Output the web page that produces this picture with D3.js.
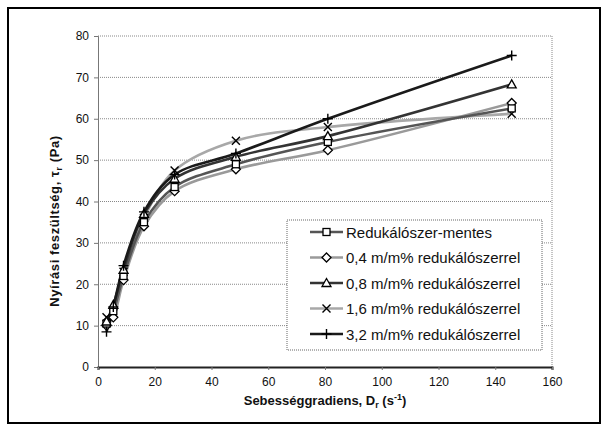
<!DOCTYPE html>
<html><head><meta charset="utf-8">
<script src="https://cdn.jsdelivr.net/npm/d3@7/dist/d3.min.js"></script>
<style>body{margin:0;background:#fff}svg{display:block}text{font-family:"Liberation Sans",Arial,sans-serif}</style>
</head><body><svg id="c" width="608" height="432"></svg>
<script>
const shearRates = [3.0, 5.4, 9.0, 16.2, 27.0, 48.6, 81.0, 145.8];
const seriesNames = ["Redukálószer-mentes","0,4 m/m% redukálószerrel","0,8 m/m% redukálószerrel","1,6 m/m% redukálószerrel","3,2 m/m% redukálószerrel"];
const s0 = [10.5, 13.5, 22.0, 35.0, 43.5, 49.0, 54.4, 62.5];
const s04 = [10.0, 12.0, 21.0, 34.0, 42.5, 47.8, 52.4, 63.8];
const s08 = [11.0, 15.0, 23.5, 37.0, 45.5, 50.8, 55.8, 68.3];
const s16 = [12.0, 13.0, 23.0, 36.0, 47.5, 54.7, 58.0, 61.2];
const s32 = [8.5, 14.5, 24.5, 37.5, 46.5, 51.6, 60.0, 75.3];
const seriesValues = [s0, s04, s08, s16, s32];
const xTicks = [0,20,40,60,80,100,120,140,160];
const yTicks = [0,10,20,30,40,50,60,70,80];

const colors = ["#555","#9a9a9a","#333","#a8a8a8","#1a1a1a"];
const markers = ["square","diamond","triangle","x","plus"];

const svg = d3.select("#c");
const L=98, R=552, T=36, B=367;
const x = d3.scaleLinear().domain([0,160]).range([L,R]);
const y = d3.scaleLinear().domain([0,80]).range([B,T]);

// outer frame
svg.append("rect").attr("x",8).attr("y",8).attr("width",592).attr("height",415)
  .attr("fill","#fff").attr("stroke","#000").attr("stroke-width",2);

// gridlines
svg.append("g").selectAll("line").data(yTicks.filter(d=>d>0)).join("line")
  .attr("x1",L).attr("x2",R).attr("y1",d=>y(d)).attr("y2",d=>y(d))
  .attr("stroke","#888").attr("stroke-width",1).attr("stroke-dasharray","1,1");
svg.append("line").attr("x1",R).attr("x2",R).attr("y1",T).attr("y2",B)
  .attr("stroke","#888").attr("stroke-dasharray","1,1");

// y axis
const ya = svg.append("g").attr("transform",`translate(${L},0)`)
  .call(d3.axisLeft(y).tickValues(yTicks).tickSize(4).tickPadding(5));
ya.select(".domain").attr("stroke","#777");
ya.selectAll(".tick line").attr("stroke","#777");
ya.selectAll("text").attr("font-size",12).attr("fill","#111").style("font-family","Liberation Sans, Arial");

// x axis
const xa = svg.append("g").attr("transform",`translate(0,${B})`)
  .call(d3.axisBottom(x).tickValues(xTicks).tickSize(3).tickPadding(7));
xa.select(".domain").attr("stroke","#222").attr("stroke-width",2);
xa.selectAll(".tick line").attr("stroke","#777");
xa.selectAll("text").attr("font-size",12).attr("fill","#111").style("font-family","Liberation Sans, Arial");

// axis titles
const xt = svg.append("text").attr("x",325).attr("y",405).attr("text-anchor","middle")
  .attr("font-size",13).attr("font-weight","bold").attr("fill","#111");
xt.append("tspan").text("Sebességgradiens, D");
xt.append("tspan").attr("font-size",9).attr("dy",3).text("r");
xt.append("tspan").attr("dy",-3).text(" (s");
xt.append("tspan").attr("font-size",9).attr("dy",-5).text("-1");
xt.append("tspan").attr("dy",5).text(")");

const yt = svg.append("text").attr("transform","translate(59,221) rotate(-90)").attr("text-anchor","middle")
  .attr("font-size",13).attr("font-weight","bold").attr("fill","#111").attr("letter-spacing",0.6);
yt.append("tspan").text("Nyírási feszültség,  τ");
yt.append("tspan").attr("font-size",9).attr("dy",3).text("r");
yt.append("tspan").attr("dy",-3).text(" (Pa)");

// lines
const line = d3.line().x((d,i)=>x(shearRates[i])).y(d=>y(d)).curve(d3.curveCatmullRom.alpha(0.5));
const order = [3,1,0,2,4];
order.forEach(k=>{
  svg.append("path").datum(seriesValues[k]).attr("d",line).attr("fill","none")
    .attr("stroke",colors[k]).attr("stroke-width",2.6);
});

function drawMarker(g, type, cx, cy){
  const s=3.5;
  if(type==="square") g.append("rect").attr("x",cx-s).attr("y",cy-s).attr("width",2*s).attr("height",2*s).attr("fill","#fff").attr("stroke","#000").attr("stroke-width",1.3);
  else if(type==="diamond") g.append("path").attr("d",`M${cx},${cy-4.5}L${cx+4.5},${cy}L${cx},${cy+4.5}L${cx-4.5},${cy}Z`).attr("fill","#fff").attr("stroke","#000").attr("stroke-width",1.3);
  else if(type==="triangle") g.append("path").attr("d",`M${cx},${cy-4.5}L${cx+4.5},${cy+3.5}L${cx-4.5},${cy+3.5}Z`).attr("fill","#fff").attr("stroke","#000").attr("stroke-width",1.3);
  else if(type==="x") g.append("path").attr("d",`M${cx-4},${cy-4}L${cx+4},${cy+4}M${cx-4},${cy+4}L${cx+4},${cy-4}`).attr("stroke","#000").attr("stroke-width",1.4);
  else g.append("path").attr("d",`M${cx-5},${cy}L${cx+5},${cy}M${cx},${cy-5}L${cx},${cy+5}`).attr("stroke","#000").attr("stroke-width",1.4);
}
const mg = svg.append("g");
order.forEach(k=>{
  seriesValues[k].forEach((v,i)=>drawMarker(mg, markers[k], x(shearRates[i]), y(v)));
});

// legend
svg.append("rect").attr("x",287).attr("y",220).attr("width",255).attr("height",130)
  .attr("fill","#fff").attr("stroke","#666").attr("stroke-dasharray","1,1");
const lg = svg.append("g");
seriesNames.forEach((name,k)=>{
  const cy = 232 + k*25.5;
  lg.append("line").attr("x1",310).attr("x2",343).attr("y1",cy).attr("y2",cy).attr("stroke",colors[k]).attr("stroke-width",2.6);
  drawMarker(lg, markers[k], 326.5, cy);
  lg.append("text").attr("x",346).attr("y",cy+5.5).attr("font-size",15).attr("fill","#111").text(name);
});
</script></body></html>
